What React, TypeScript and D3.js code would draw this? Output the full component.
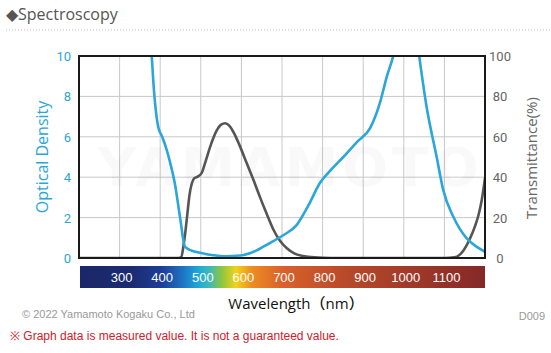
import { useEffect, useRef } from "react";
import * as d3 from "d3";

// optical density (blue) – wavelength nm / OD
const odWave = [372, 378, 385, 395, 405, 416, 426, 436, 449, 461, 478, 498, 530, 560, 597, 635, 670, 705, 736, 765, 793, 820, 851, 885, 917, 941, 958, 974, 990, 1010, 1030, 1040, 1056, 1081, 1097, 1122, 1155, 1180, 1200];
const odValue = [11.5, 10.3, 8.2, 6.5, 6.0, 5.35, 4.6, 3.7, 2.0, 0.56, 0.36, 0.26, 0.14, 0.08, 0.12, 0.35, 0.74, 1.15, 1.63, 2.6, 3.7, 4.35, 5.0, 5.75, 6.43, 7.67, 8.97, 10.0, 11.5, 12.5, 11.2, 9.7, 7.5, 5.0, 3.37, 2.04, 0.97, 0.55, 0.31];

// transmittance (gray) – wavelength nm / %
const tWave = [200, 300, 400, 445, 452, 457, 462, 467, 472, 478, 484, 490, 502, 512, 523, 539, 550, 560, 570, 580, 595, 613, 630, 646, 662, 679, 695, 712, 730, 752, 780, 820, 900, 1000, 1100, 1125, 1140, 1155, 1165, 1175, 1185, 1192, 1200];
const tValue = [0, 0, 0, 0, 0.5, 5.6, 13, 22, 31, 37, 39.5, 40, 42, 48, 55, 63, 66, 66.7, 65.5, 62.5, 56, 47, 38.5, 30, 22, 14, 8.5, 4.8, 2.3, 1, 0.3, 0, 0, 0, 0, 0.3, 2, 6.4, 10.5, 15.5, 22, 28.7, 39.6];

const waveTicks = [300, 400, 500, 600, 700, 800, 900, 1000, 1100];
const odTicks = [0, 2, 4, 6, 8, 10];
const tTicks = [0, 20, 40, 60, 80, 100];

const spectrumStops: [number, string][] = [
  [200, "#1b2767"],
  [330, "#1c2c72"],
  [400, "#1d3c96"],
  [450, "#1e6fc0"],
  [490, "#1ea6d8"],
  [520, "#3fb9b8"],
  [550, "#8cc640"],
  [585, "#f2d21c"],
  [625, "#ec8c22"],
  [700, "#d9612a"],
  [850, "#b94a2a"],
  [1200, "#852828"],
];

const BLUE = "#2ba6d8";
const GRAY = "#555555";

export default function App() {
  const svgRef = useRef<SVGSVGElement>(null);

  useEffect(() => {
    document.body.style.margin = "0";
    if (!svgRef.current) return;
    const svg = d3.select(svgRef.current);
    svg.selectAll("*").remove();

    const W = 551;
    const H = 353;
    const m = { left: 79, right: 485, top: 56, bottom: 258 };

    const x = d3.scaleLinear().domain([200, 1200]).range([m.left, m.right]);
    const yOD = d3.scaleLinear().domain([0, 10]).range([m.bottom, m.top]);
    const yT = d3.scaleLinear().domain([0, 100]).range([m.bottom, m.top]);

    svg.attr("width", W).attr("height", H).attr("viewBox", `0 0 ${W} ${H}`);
    svg.append("rect").attr("width", W).attr("height", H).attr("fill", "#fff");

    const defs = svg.append("defs");
    defs.append("clipPath").attr("id", "plot-clip")
      .append("rect")
      .attr("x", m.left).attr("y", m.top)
      .attr("width", m.right - m.left).attr("height", m.bottom - m.top);

    const grad = defs.append("linearGradient").attr("id", "spectrum")
      .attr("x1", "0%").attr("x2", "100%").attr("y1", "0%").attr("y2", "0%");
    spectrumStops.forEach(([nm, c]) => {
      grad.append("stop")
        .attr("offset", `${((nm - 200) / 1000) * 100}%`)
        .attr("stop-color", c);
    });

    // Header
    svg.append("text")
      .attr("x", 6).attr("y", 20)
      .attr("fill", "#555")
      .attr("font-size", "16px")
      .attr("font-family", "Open Sans, sans-serif")
      .text("◆Spectroscopy");
    svg.append("line")
      .attr("x1", 6).attr("x2", W).attr("y1", 30).attr("y2", 30)
      .attr("stroke", "#bbb").attr("stroke-width", 1)
      .attr("stroke-dasharray", "1,2");

    // Grid
    const grid = svg.append("g");
    d3.range(300, 1200, 100).forEach((nm) => {
      grid.append("line")
        .attr("x1", x(nm)).attr("x2", x(nm))
        .attr("y1", m.top).attr("y2", m.bottom)
        .attr("stroke", "#c8c8c8").attr("stroke-width", 1);
    });
    [2, 4, 6, 8].forEach((v) => {
      grid.append("line")
        .attr("x1", m.left).attr("x2", m.right)
        .attr("y1", yOD(v)).attr("y2", yOD(v))
        .attr("stroke", "#c8c8c8").attr("stroke-width", 1);
    });

    // Watermark
    svg.append("text")
      .attr("x", 290).attr("y", 186)
      .attr("text-anchor", "middle")
      .attr("fill", "#000").attr("fill-opacity", 0.022)
      .attr("font-size", "54px").attr("font-weight", "700")
      .attr("font-family", "DejaVu Sans, sans-serif")
      .attr("letter-spacing", "4")
      .text("YAMAMOTO");

    const line = d3.line<[number, number]>().curve(d3.curveMonotoneX);
    const plot = svg.append("g").attr("clip-path", "url(#plot-clip)");

    plot.append("path")
      .attr("d", line(tWave.map((w, i) => [x(w), yT(tValue[i])])))
      .attr("fill", "none").attr("stroke", GRAY).attr("stroke-width", 2.6)
      .attr("stroke-linejoin", "round");

    plot.append("path")
      .attr("d", line(odWave.map((w, i) => [x(w), yOD(odValue[i])])))
      .attr("fill", "none").attr("stroke", BLUE).attr("stroke-width", 2.6)
      .attr("stroke-linejoin", "round");

    // Frame
    svg.append("rect")
      .attr("x", m.left).attr("y", m.top)
      .attr("width", m.right - m.left).attr("height", m.bottom - m.top)
      .attr("fill", "none").attr("stroke", "#1a1a1a").attr("stroke-width", 2);

    // Left axis
    odTicks.forEach((v) => {
      svg.append("text")
        .attr("x", 71).attr("y", yOD(v) + 5)
        .attr("text-anchor", "end")
        .attr("fill", BLUE).attr("font-size", "13px")
        .attr("font-family", "Roboto, sans-serif")
        .text(v);
    });
    svg.append("text")
      .attr("transform", `translate(48, 157) rotate(-90)`)
      .attr("text-anchor", "middle")
      .attr("fill", BLUE).attr("font-size", "16px")
      .attr("font-family", "Open Sans, sans-serif")
      .text("Optical Density");

    // Right axis
    tTicks.forEach((v) => {
      svg.append("text")
        .attr("x", 500).attr("y", yT(v) + 5)
        .attr("text-anchor", "middle")
        .attr("fill", "#666").attr("font-size", "13px")
        .attr("font-family", "Roboto, sans-serif")
        .text(v);
    });
    svg.append("text")
      .attr("transform", `translate(537, 158) rotate(-90)`)
      .attr("text-anchor", "middle")
      .attr("fill", "#666").attr("font-size", "15px")
      .attr("font-family", "Open Sans, sans-serif")
      .text("Transmittance(%)");

    // Spectrum bar
    svg.append("rect")
      .attr("x", m.left + 1).attr("y", 266)
      .attr("width", m.right - m.left - 1).attr("height", 22)
      .attr("fill", "url(#spectrum)");
    waveTicks.forEach((nm) => {
      svg.append("text")
        .attr("x", x(nm) + 2).attr("y", 282)
        .attr("text-anchor", "middle")
        .attr("fill", "#fff").attr("font-size", "13px")
        .attr("font-family", "Liberation Sans, Arial, sans-serif")
        .text(nm);
    });

    svg.append("text")
      .attr("x", 296).attr("y", 309)
      .attr("text-anchor", "middle")
      .attr("fill", "#111").attr("font-size", "15px").attr("font-weight", "500")
      .attr("font-family", "Open Sans, Noto Sans CJK JP, sans-serif")
      .text("Wavelength（nm）");

    svg.append("text")
      .attr("x", 22).attr("y", 318)
      .attr("fill", "#999").attr("font-size", "11px")
      .attr("font-family", "Liberation Sans, Arial, sans-serif")
      .text("© 2022 Yamamoto Kogaku Co., Ltd");

    svg.append("text")
      .attr("x", 545).attr("y", 320)
      .attr("text-anchor", "end")
      .attr("fill", "#999").attr("font-size", "11px")
      .attr("font-family", "Liberation Sans, Arial, sans-serif")
      .text("D009");

    svg.append("text")
      .attr("x", 10).attr("y", 340)
      .attr("fill", "#d0202a").attr("font-size", "12px")
      .attr("font-family", "Liberation Sans, Arial, sans-serif")
      .text("※ Graph data is measured value. It is not a guaranteed value.");
  }, []);

  return <svg ref={svgRef} style={{ display: "block" }} />;
}
